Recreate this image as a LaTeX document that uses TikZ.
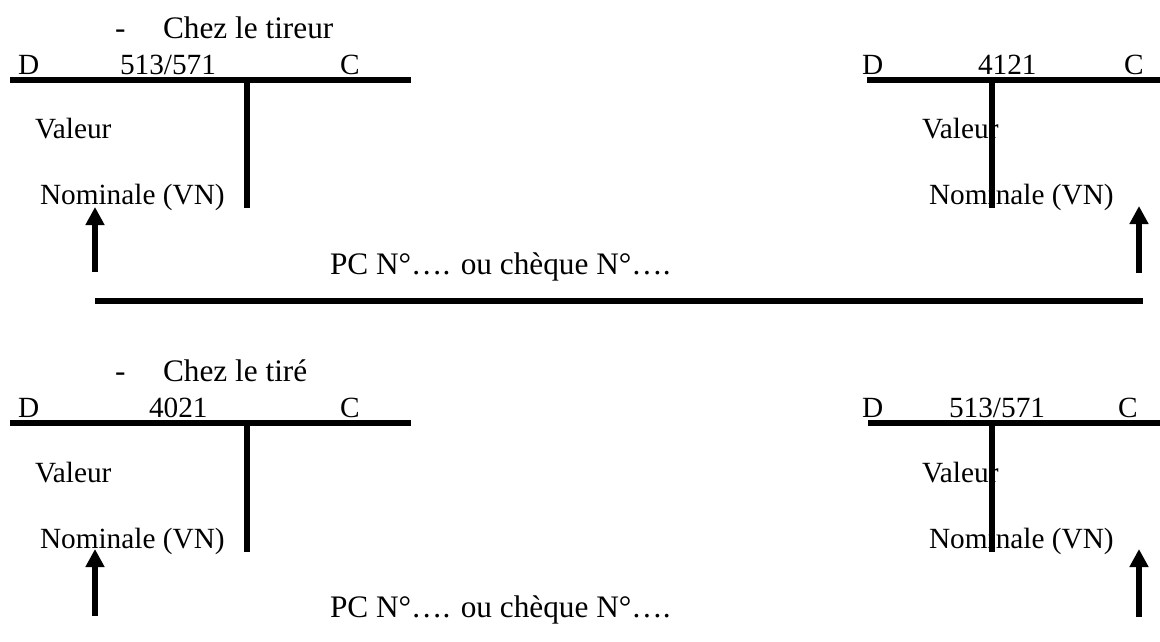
\documentclass[tikz,border=0pt]{standalone}
\usepackage{fontspec}
\setmainfont{Liberation Serif}
\usetikzlibrary{arrows.meta}
\tikzset{
  lbl/.style={inner sep=0pt, outer sep=0pt, anchor=base west, font=\fontsize{29.3}{35}\selectfont},
  big/.style={lbl, font=\fontsize{31.3}{37}\selectfont},
  tline/.style={line width=5.5pt, line cap=butt},
  uparrow/.style={line width=6pt, -{Triangle[width=18pt,length=18pt]}},
}
\begin{document}
\begin{tikzpicture}[x=1pt,y=-1pt]
\useasboundingbox (0,0) rectangle (1160,641);
% ---------- Chez le tireur ----------
\node[big] (dash1) at (115,38) {-};
\node[big] (title1) at (163,38) {Chez le tireur};
% left T account 513/571
\node[lbl] (d1) at (18,74) {D};
\node[lbl] (n1) at (120,74) {513/571};
\node[lbl] (c1) at (340,74) {C};
\node[lbl] (v1) at (35,138) {Valeur};
\node[lbl] (vn1) at (40,204) {Nominale (VN)};
\coordinate (h1a) at (10,80); \coordinate (h1b) at (411,80);
\coordinate (v1a) at (247,80); \coordinate (v1b) at (247,208);
\draw[tline] (h1a) -- (h1b);
\draw[tline] (v1a) -- (v1b);
% right T account 4121
\node[lbl] (d2) at (862,74) {D};
\node[lbl] (n2) at (978,74) {4121};
\node[lbl] (c2) at (1124,74) {C};
\node[lbl] (v2) at (922,138) {Valeur};
\node[lbl] (vn2) at (929,204) {Nominale (VN)};
\coordinate (h2a) at (867,80); \coordinate (h2b) at (1160,80);
\coordinate (v2a) at (992,80); \coordinate (v2b) at (992,208);
\draw[tline] (h2a) -- (h2b);
\draw[tline] (v2a) -- (v2b);
% arrows and link
\node[big] (pc1) at (330,274) {PC N°…. ou chèque N°….};
\coordinate (a1s) at (95,272); \coordinate (a1e) at (95,207);
\coordinate (a2s) at (1139,273); \coordinate (a2e) at (1139,206);
\draw[uparrow] (a1s) -- (a1e);
\draw[uparrow] (a2s) -- (a2e);
\coordinate (sepA) at (95,301); \coordinate (sepB) at (1143,301);
\draw[tline] (sepA) -- (sepB);
% ---------- Chez le tiré ----------
\node[big] (dash2) at (115,381) {-};
\node[big] (title2) at (163,381) {Chez le tiré};
% left T account 4021
\node[lbl] (d3) at (18,417) {D};
\node[lbl] (n3) at (149,417) {4021};
\node[lbl] (c3) at (340,417) {C};
\node[lbl] (v3) at (35,482) {Valeur};
\node[lbl] (vn3) at (40,548) {Nominale (VN)};
\coordinate (h3a) at (10,423); \coordinate (h3b) at (411,423);
\coordinate (v3a) at (247,423); \coordinate (v3b) at (247,552);
\draw[tline] (h3a) -- (h3b);
\draw[tline] (v3a) -- (v3b);
% right T account 513/571
\node[lbl] (d4) at (862,417) {D};
\node[lbl] (n4) at (949,417) {513/571};
\node[lbl] (c4) at (1118,417) {C};
\node[lbl] (v4) at (922,482) {Valeur};
\node[lbl] (vn4) at (929,548) {Nominale (VN)};
\coordinate (h4a) at (868,423); \coordinate (h4b) at (1160,423);
\coordinate (v4a) at (992,423); \coordinate (v4b) at (992,552);
\draw[tline] (h4a) -- (h4b);
\draw[tline] (v4a) -- (v4b);
% arrows
\node[big] (pc2) at (330,617) {PC N°…. ou chèque N°….};
\coordinate (a3s) at (95,616); \coordinate (a3e) at (95,549);
\coordinate (a4s) at (1139,617); \coordinate (a4e) at (1139,549);
\draw[uparrow] (a3s) -- (a3e);
\draw[uparrow] (a4s) -- (a4e);
\end{tikzpicture}
\end{document}
